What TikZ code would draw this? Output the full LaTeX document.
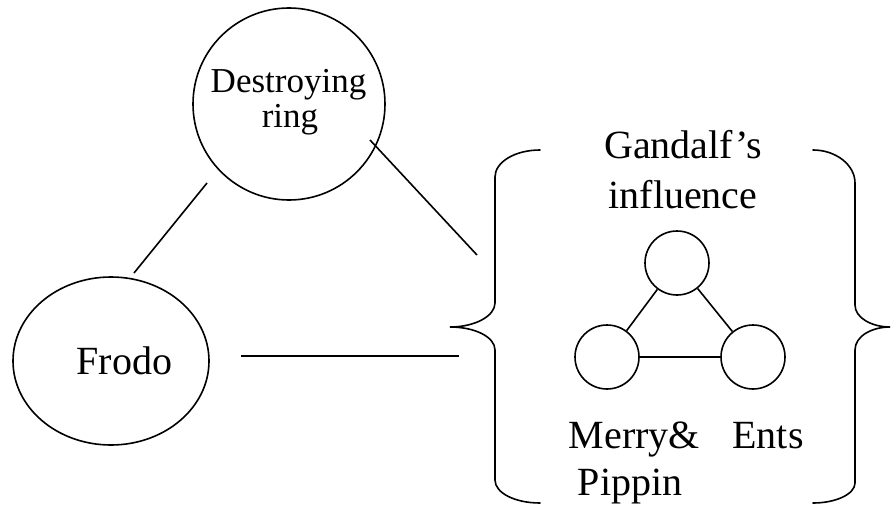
\documentclass[tikz,border=0pt]{standalone}
\usepackage{fontspec}
\setmainfont{Liberation Serif}
\usetikzlibrary{shapes.geometric}
\begin{document}
\begin{tikzpicture}[x=1pt,y=-1pt,
  ln/.style={line width=1.6pt,black},
  bigtext/.style={font=\fontsize{40}{48}\selectfont,inner sep=0pt,align=center},
  ringtext/.style={font=\fontsize{35}{35}\selectfont,inner sep=0pt,align=center},
  oval/.style={ellipse,draw,line width=1.6pt,inner sep=0pt},
  small/.style={circle,draw,line width=1.6pt,minimum size=64pt,inner sep=0pt}]
\useasboundingbox (0,0) rectangle (891,508);
% big nodes
\node[oval,minimum width=192pt,minimum height=192pt] (ring) at (289,104) {};
\node[ringtext,anchor=base] (ringtext1) at (288.5,93) {Destroying};
\node[ringtext,anchor=base] (ringtext2) at (290,128) {ring};
\node[oval,minimum width=196pt,minimum height=168pt] (frodo) at (111,361) {};
\node[bigtext,anchor=base] (frodotext) at (124.5,374) {Frodo};
% small circles
\node[small] (gtop) at (677,263) {};
\node[small] (gleft) at (607,357) {};
\node[small] (gright) at (753,357) {};
\draw[ln] (gtop) -- (gleft);
\draw[ln] (gtop) -- (gright);
\draw[ln] (gleft) -- (gright);
% labels
\node[bigtext,anchor=base] (gand) at (683,158) {Gandalf’s};
\node[bigtext,anchor=base] (infl) at (683,208) {influence};
\node[bigtext,anchor=base] (merry) at (634.5,448) {Merry\&};
\node[bigtext,anchor=base] (pippin) at (630,495) {Pippin};
\node[bigtext,anchor=base] (ents) at (768,448) {Ents};
% connectors
\coordinate (r1) at (207,183);
\coordinate (f1) at (134,273);
\coordinate (r2) at (370,140);
\coordinate (b1) at (477,255);
\coordinate (f2) at (241,356);
\coordinate (b2) at (459,356);
\draw[ln] (r1) -- (f1);
\draw[ln] (r2) -- (b1);
\draw[ln] (f2) -- (b2);
% braces
\draw[ln,line cap=round] (540,150) .. controls (515,150) and (495,162) .. (495,177)
  -- (495,303) .. controls (495,316) and (475,327) .. (450,327)
  .. controls (475,327) and (495,337) .. (495,350)
  -- (495,480) .. controls (495,493) and (515,503) .. (540,503);
\draw[ln,line cap=round] (813,150) .. controls (836,150) and (855,165) .. (855,183)
  -- (855,305) .. controls (855,318) and (872,327) .. (890,327)
  .. controls (872,327) and (855,336) .. (855,350)
  -- (855,483) .. controls (855,494) and (836,503) .. (813,503);
\end{tikzpicture}
\end{document}
